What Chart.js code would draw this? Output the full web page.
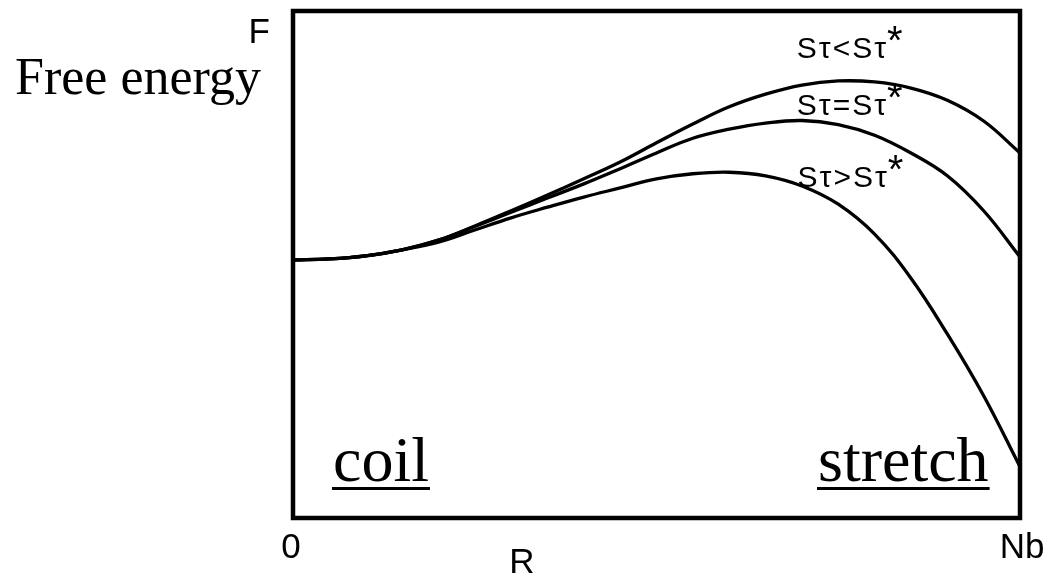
<!DOCTYPE html>
<html>
<head>
<meta charset="utf-8">
<script src="https://cdn.jsdelivr.net/npm/chart.js@4/dist/chart.umd.min.js"></script>
<style>
  html, body { margin: 0; padding: 0; background: #fff; }
</style>
</head>
<body>
<canvas id="chart" width="1047" height="576"></canvas>
<script>
// end-to-end distance R as a fraction of Nb
const rValues = [0, 0.05, 0.1, 0.15, 0.2, 0.25, 0.3, 0.35, 0.4, 0.45, 0.5,
                 0.55, 0.6, 0.65, 0.7, 0.75, 0.8, 0.85, 0.9, 0.95, 1.0];

// free energy F (arbitrary units) for the three regimes
const fBelow = [50.9, 51.1, 51.7, 52.9, 54.8, 57.6, 60.6, 63.7, 66.9, 70.2, 74.0,
                77.7, 81.1, 83.6, 85.4, 86.2, 86.0, 84.8, 82.4, 78.3, 72.0];
const fEqual = [50.9, 51.1, 51.7, 52.9, 54.8, 57.5, 60.3, 63.1, 65.9, 68.9, 72.0,
                74.9, 76.7, 77.9, 78.4, 77.6, 75.5, 72.0, 67.5, 60.6, 51.5];
const fAbove = [50.9, 51.1, 51.7, 52.9, 54.4, 56.8, 59.2, 61.3, 63.3, 65.1, 66.9,
                67.9, 68.2, 67.5, 65.5, 61.9, 56.0, 47.3, 36.3, 24.1, 10.1];

const curveLabels = ['Sτ<Sτ', 'Sτ=Sτ', 'Sτ>Sτ'];
const xTickLabels = ['0', 'Nb'];
const regionLabels = ['coil', 'stretch'];

const SANS = '"Liberation Sans", Arial, sans-serif';
const SERIF = '"Liberation Serif", "Times New Roman", serif';

function toPoints(f) {
  return rValues.map((r, i) => ({ x: r, y: f[i] }));
}

function curve(f) {
  return {
    data: toPoints(f),
    borderColor: '#000',
    borderWidth: 3.3,
    pointRadius: 0,
    fill: false,
    tension: 0.4
  };
}

function underlined(ctx, text, x, y, font) {
  ctx.font = font;
  ctx.textAlign = 'left';
  ctx.textBaseline = 'alphabetic';
  ctx.fillText(text, x, y);
  const w = ctx.measureText(text).width;
  ctx.fillRect(x - 1, y + 6, w + 2, 3);
}

// frame, axis labels and annotations
const decorations = {
  id: 'decorations',
  afterDraw(chart) {
    const { ctx, chartArea: a, scales: { x, y } } = chart;
    ctx.save();
    ctx.strokeStyle = '#000';
    ctx.fillStyle = '#000';
    ctx.lineWidth = 4.5;
    ctx.strokeRect(a.left, a.top, a.right - a.left, a.bottom - a.top);

    // axis ends and axis names
    ctx.font = '35px ' + SANS;
    ctx.textBaseline = 'alphabetic';
    ctx.textAlign = 'center';
    ctx.fillText(xTickLabels[0], x.getPixelForValue(0) - 2, a.bottom + 40);
    ctx.fillText(xTickLabels[1], x.getPixelForValue(1) + 2, a.bottom + 40);
    ctx.fillText('R', x.getPixelForValue(0.315), a.bottom + 55);
    ctx.textAlign = 'right';
    ctx.fillText('F', a.left - 23, a.top + 32);

    ctx.font = '52px ' + SERIF;
    ctx.textAlign = 'left';
    ctx.fillText('Free energy', 15, 94);

    // regime labels next to the curves
    const spots = [[0.693, 90.7], [0.693, 79.5], [0.694, 65.3]];
    curveLabels.forEach((t, i) => {
      const px = x.getPixelForValue(spots[i][0]);
      const py = y.getPixelForValue(spots[i][1]);
      ctx.font = '30px ' + SANS;
      ctx.letterSpacing = '2px';
      ctx.textAlign = 'left';
      ctx.fillText(t, px, py);
      const w = ctx.measureText(t).width;
      ctx.letterSpacing = '0px';
      ctx.font = '40px ' + SANS;
      ctx.fillText('*', px + w - 1, py - 4);
    });

    underlined(ctx, regionLabels[0], 333, 481, '64px ' + SERIF);
    underlined(ctx, regionLabels[1], 818, 481, '64px ' + SERIF);
    ctx.restore();
  }
};

new Chart(document.getElementById('chart'), {
  type: 'line',
  data: {
    datasets: [curve(fBelow), curve(fEqual), curve(fAbove)]
  },
  options: {
    responsive: false,
    animation: false,
    devicePixelRatio: 1,
    layout: { padding: { left: 293, top: 11, right: 27, bottom: 58 } },
    scales: {
      x: { type: 'linear', min: 0, max: 1, display: false },
      y: { min: 0, max: 100, display: false }
    },
    plugins: {
      legend: { display: false },
      tooltip: { enabled: false }
    }
  },
  plugins: [decorations]
});
</script>
</body>
</html>
